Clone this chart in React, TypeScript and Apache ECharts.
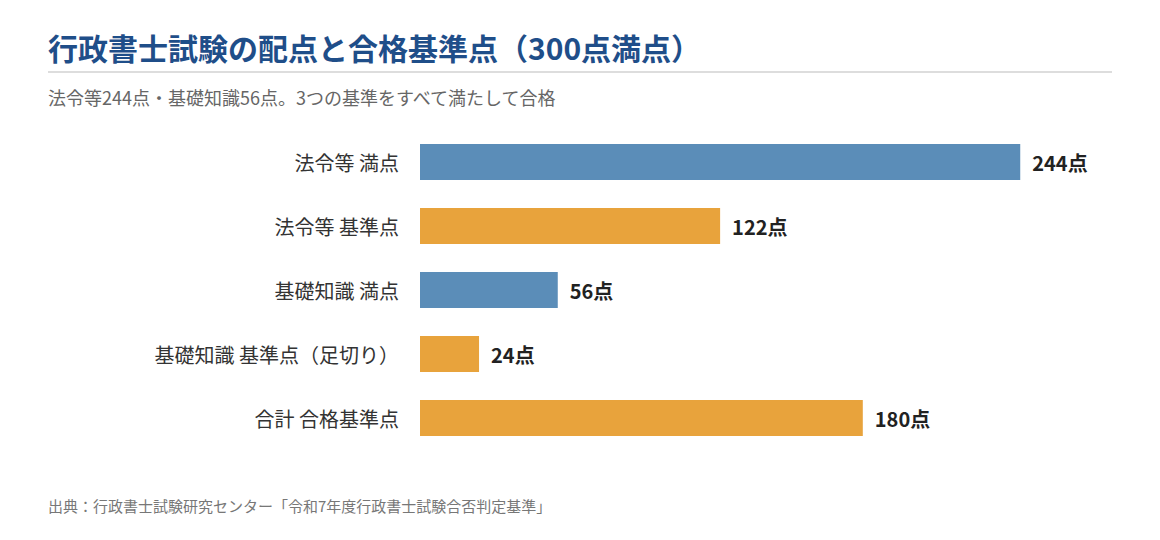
import React, { useRef, useEffect } from "react";
import * as echarts from "echarts";

const categories = [
  "法令等 満点",
  "法令等 基準点",
  "基礎知識 満点",
  "基礎知識 基準点（足切り）",
  "合計 合格基準点",
];
const points = [244, 122, 56, 24, 180];
// 満点 = full marks, 基準 = passing threshold
const kinds = ["full", "pass", "full", "pass", "pass"];
const maxScore = 300;

const titleText = "行政書士試験の配点と合格基準点（300点満点）";
const subtitleText = "法令等244点・基礎知識56点。3つの基準をすべて満たして合格";
const sourceText = "出典：行政書士試験研究センター「令和7年度行政書士試験合否判定基準」";

const FONT = '"Noto Sans CJK JP", "Noto Sans", sans-serif';
const BLUE = "#5b8db8";
const ORANGE = "#e8a33c";

function buildOption() {
  return {
    animation: false,
    backgroundColor: "#ffffff",
    textStyle: { fontFamily: FONT },
    grid: { left: 420, top: 130, width: 738, height: 320, containLabel: false },
    xAxis: {
      type: "value",
      min: 0,
      max: maxScore,
      show: false,
    },
    yAxis: {
      type: "category",
      data: categories,
      inverse: true,
      axisLine: { show: false },
      axisTick: { show: false },
      splitLine: { show: false },
      axisLabel: { color: "#333333", fontSize: 20, margin: 21, fontFamily: FONT },
    },
    series: [
      {
        type: "bar",
        barWidth: 36,
        data: points.map((v, i) => ({
          value: v,
          itemStyle: { color: kinds[i] === "full" ? BLUE : ORANGE },
        })),
        label: {
          show: true,
          position: "right",
          distance: 12,
          formatter: "{c}点",
          color: "#222222",
          fontSize: 20,
          fontWeight: "bold",
          fontFamily: FONT,
        },
      },
    ],
    graphic: [
      {
        type: "text",
        x: 48,
        y: 47,
        style: {
          text: titleText,
          fill: "#1f4e89",
          font: `bold 30px ${FONT}`,
          verticalAlign: "middle",
        },
      },
      {
        type: "line",
        shape: { x1: 48, y1: 72, x2: 1112, y2: 72 },
        style: { stroke: "#dddddd", lineWidth: 2 },
      },
      {
        type: "text",
        x: 48,
        y: 97,
        style: {
          text: subtitleText,
          fill: "#666666",
          font: `18px ${FONT}`,
          verticalAlign: "middle",
        },
      },
      {
        type: "text",
        x: 48,
        y: 505,
        style: {
          text: sourceText,
          fill: "#777777",
          font: `15px ${FONT}`,
          verticalAlign: "middle",
        },
      },
    ],
  };
}

export default function App() {
  const chartRef = useRef<HTMLDivElement>(null);

  useEffect(() => {
    if (!chartRef.current) return;
    const chart = echarts.init(chartRef.current, null, { renderer: "svg" });
    // eslint-disable-next-line @typescript-eslint/no-explicit-any
    chart.setOption(buildOption() as any);
    return () => chart.dispose();
  }, []);

  return (
    <div
      ref={chartRef}
      style={{ position: "fixed", left: 0, top: 0, width: 1160, height: 540, background: "#fff" }}
    />
  );
}
